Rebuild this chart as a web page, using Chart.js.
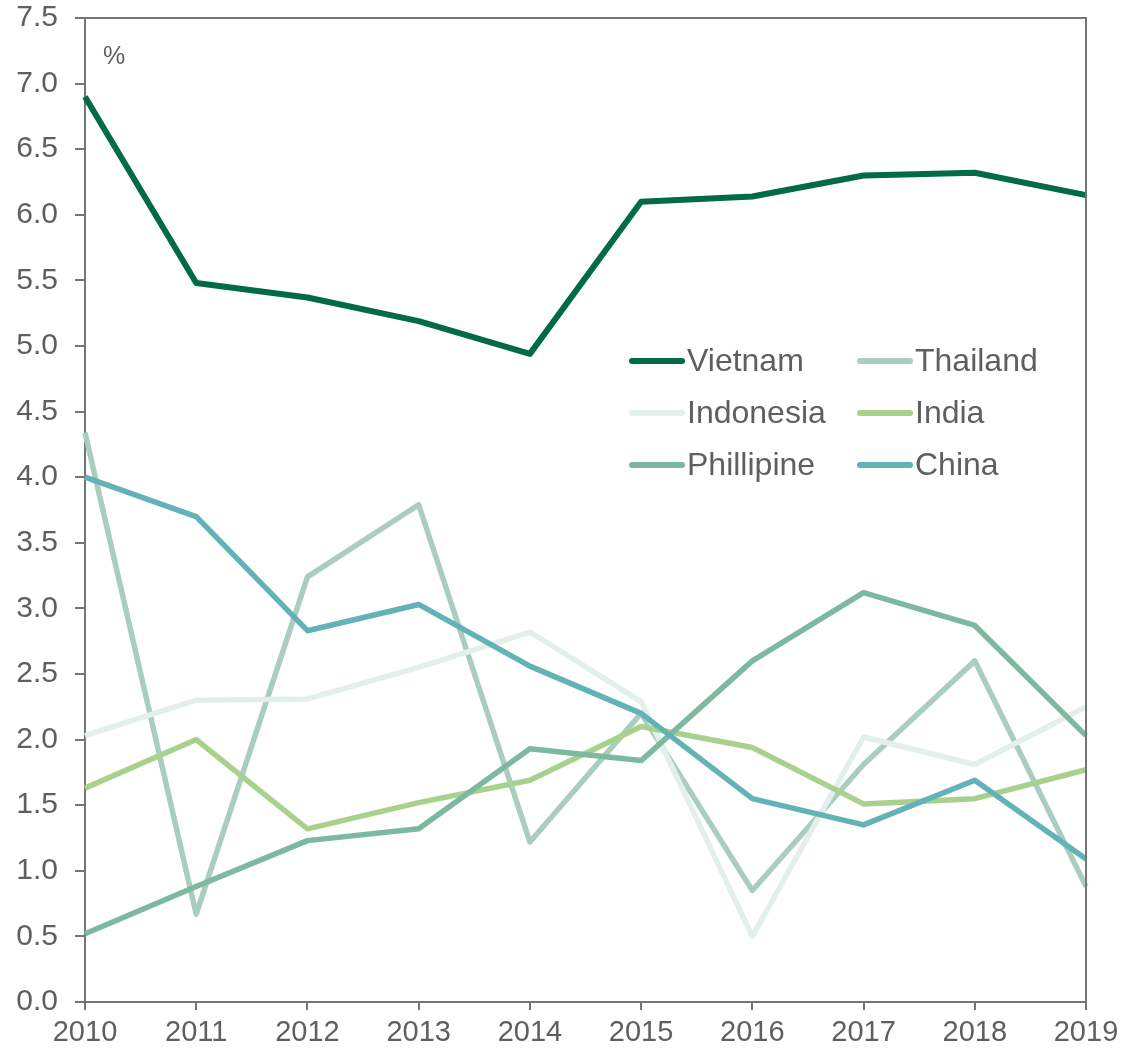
<!DOCTYPE html>
<html>
<head>
<meta charset="utf-8">
<script src="https://cdn.jsdelivr.net/npm/chart.js@4"></script>
<style>
  html, body { margin: 0; padding: 0; background: #fff; }
  #wrap { width: 1124px; height: 1053px; }
</style>
</head>
<body>
<div id="wrap"><canvas id="growthChart" width="1124" height="1053"></canvas></div>
<script>
// values
var years = ["2010", "2011", "2012", "2013", "2014", "2015", "2016", "2017", "2018", "2019"];
var countries = ["Vietnam", "Thailand", "Indonesia", "India", "Phillipine", "China"];
var vietnam = [6.90, 5.48, 5.37, 5.19, 4.94, 6.10, 6.14, 6.30, 6.32, 6.15];
var thailand = [4.34, 0.67, 3.24, 3.79, 1.22, 2.20, 0.85, 1.81, 2.60, 0.88];
var indonesia = [2.03, 2.30, 2.31, 2.55, 2.82, 2.29, 0.50, 2.02, 1.81, 2.25];
var india = [1.63, 2.00, 1.32, 1.52, 1.69, 2.10, 1.94, 1.51, 1.55, 1.77];
var phillipine = [0.52, 0.88, 1.23, 1.32, 1.93, 1.84, 2.60, 3.12, 2.87, 2.03];
var china = [4.00, 3.70, 2.83, 3.03, 2.56, 2.20, 1.55, 1.35, 1.69, 1.09];
var colors = ["#006B45", "#A9CEC0", "#E3EFEA", "#A9D18E", "#7DB8A0", "#62B2B8"];

var series = [vietnam, thailand, indonesia, india, phillipine, china];
var textColor = "#5f5f5f";
var axisColor = "#757575";
var fontFamily = "'Liberation Sans', Arial, sans-serif";

var datasets = series.map(function (vals, i) {
  return {
    label: countries[i],
    data: vals,
    borderColor: colors[i],
    backgroundColor: colors[i],
    borderWidth: i === 0 ? 6 : 5.5,
    pointRadius: 0,
    tension: 0,
    fill: false,
    order: series.length - i // later series drawn on top
  };
});

// frame, "%" label and the in-plot legend
var extras = {
  id: "extras",
  afterDatasetsDraw: function (chart) {
    var ctx = chart.ctx;
    var a = chart.chartArea;
    ctx.save();
    ctx.strokeStyle = axisColor;
    ctx.lineWidth = 2;
    ctx.beginPath();
    ctx.moveTo(a.left, a.top);
    ctx.lineTo(a.right, a.top);
    ctx.lineTo(a.right, a.bottom);
    ctx.stroke();

    ctx.fillStyle = textColor;
    ctx.font = "25px " + fontFamily;
    ctx.textBaseline = "middle";
    ctx.textAlign = "left";
    ctx.fillText("%", 103, 57);

    // legend, 2 columns x 3 rows
    var cols = [629, 857];
    var rows = [361, 413, 465];
    ctx.font = "32px " + fontFamily;
    chart.data.datasets.forEach(function (ds, i) {
      var x = cols[i % 2];
      var y = rows[Math.floor(i / 2)];
      ctx.strokeStyle = ds.borderColor;
      ctx.lineWidth = 6;
      ctx.lineCap = "round";
      ctx.beginPath();
      ctx.moveTo(x + 3, y);
      ctx.lineTo(x + 53, y);
      ctx.stroke();
      ctx.fillStyle = textColor;
      ctx.fillText(ds.label, x + 58, y + 1);
    });
    ctx.restore();
  }
};

var ctx = document.getElementById("growthChart").getContext("2d");
var myChart = new Chart(ctx, {
  type: "line",
  data: { labels: years, datasets: datasets },
  plugins: [extras],
  options: {
    responsive: false,
    animation: false,
    layout: { padding: { top: 18, right: 38, left: 0, bottom: 0 } },
    elements: { line: { borderJoinStyle: "round", borderCapStyle: "butt" } },
    plugins: {
      legend: { display: false },
      tooltip: { enabled: false }
    },
    scales: {
      x: {
        offset: false,
        afterFit: function (scale) {
          scale.height = 51;
          scale.paddingLeft = 0;
          scale.paddingRight = 0;
        },
        grid: { display: true, drawOnChartArea: false, drawTicks: true, tickLength: 8, color: axisColor, lineWidth: 2 },
        border: { display: true, color: axisColor, width: 2 },
        ticks: {
          color: textColor,
          padding: 6,
          maxRotation: 0,
          autoSkip: false,
          font: { family: fontFamily, size: 29 }
        }
      },
      y: {
        min: 0,
        max: 7.5,
        afterFit: function (scale) {
          scale.width = 85;
          scale.paddingTop = 0;
          scale.paddingBottom = 0;
        },
        grid: { display: true, drawOnChartArea: false, drawTicks: true, tickLength: 10, color: axisColor, lineWidth: 2 },
        border: { display: true, color: axisColor, width: 2 },
        ticks: {
          stepSize: 0.5,
          color: textColor,
          padding: 17,
          font: { family: fontFamily, size: 30 },
          callback: function (v) { return Number(v).toFixed(1); }
        }
      }
    }
  }
});
</script>
</body>
</html>
